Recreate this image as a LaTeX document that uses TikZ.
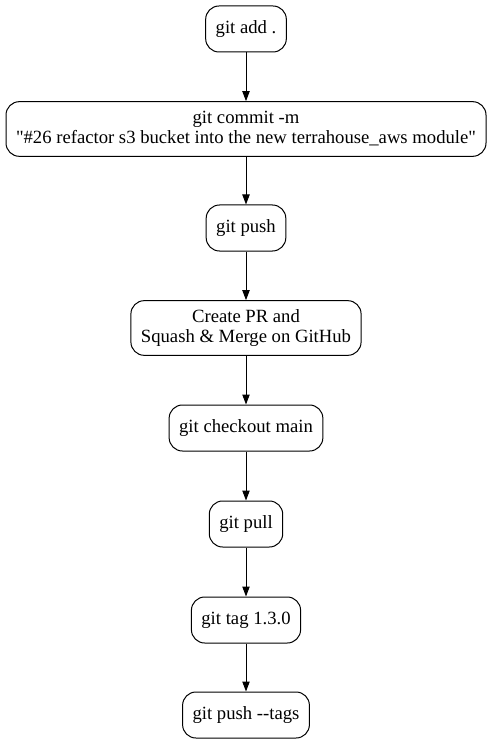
\documentclass[tikz,border=0pt]{standalone}
\usepackage{fontspec}
\setmainfont{Liberation Serif}[Ligatures=TeXOff]
\usetikzlibrary{arrows.meta}
\begin{document}
\begin{tikzpicture}[x=0.75pt,y=-0.75pt,
  stepbox/.style={draw, line width=0.75pt, rounded corners=10pt, align=center,
    font=\fontsize{14}{15}\selectfont, inner xsep=7.5pt, inner ysep=0pt, minimum height=34.5pt},
  flow/.style={-{Triangle[length=7.5pt,width=5.5pt]}, line width=0.75pt}]
\useasboundingbox (0,0) rectangle (492,745);
\node[stepbox] (add) at (246,29) {git add .};
\node[stepbox, minimum height=41pt] (commit) at (246,129) {git commit -m\\"\#26 refactor s3 bucket into the new terrahouse\_aws module"};
\node[stepbox] (push) at (246,228) {git push};
\node[stepbox, minimum height=41pt] (pr) at (246,328) {Create PR and\\Squash \& Merge on GitHub};
\node[stepbox] (checkout) at (246,428) {git checkout main};
\node[stepbox] (pull) at (246,524) {git pull};
\node[stepbox] (tag) at (246,620) {git tag 1.3.0};
\node[stepbox] (pushtags) at (246,715) {git push --tags};
\draw[flow] (add) -- (commit);
\draw[flow] (commit) -- (push);
\draw[flow] (push) -- (pr);
\draw[flow] (pr) -- (checkout);
\draw[flow] (checkout) -- (pull);
\draw[flow] (pull) -- (tag);
\draw[flow] (tag) -- (pushtags);
\end{tikzpicture}
\end{document}
